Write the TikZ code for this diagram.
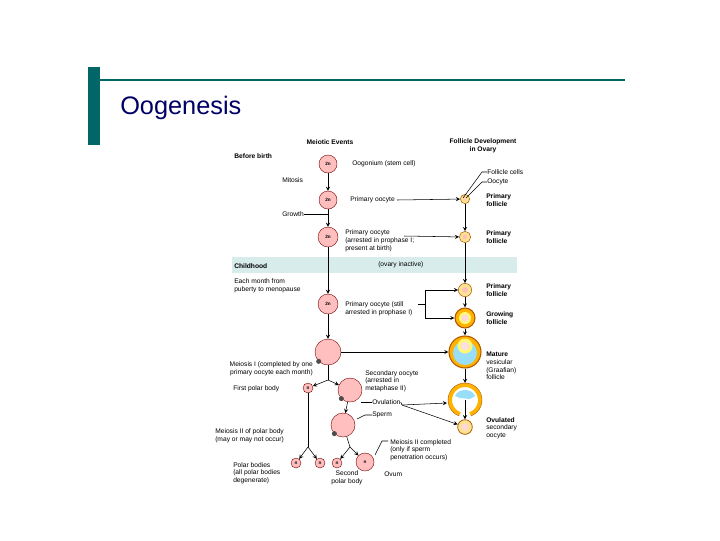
\documentclass[tikz,border=0pt]{standalone}
\usepackage{fontspec}
\setmainfont{Liberation Sans}
\begin{document}
\begin{tikzpicture}[x=0.75pt,y=-0.75pt,
 t/.style={font=\fontsize{5}{5.8}\selectfont,inner sep=0,align=left,anchor=west},
 tb/.style={t,font=\fontsize{5}{5.8}\selectfont\bfseries},
 cell/.style={circle,draw=red!45!black,fill=red!25,line width=0.3pt,inner sep=0,font=\fontsize{3.5}{4}\selectfont\bfseries},
 ar/.style={->,>=stealth,line width=0.4pt},
 ln/.style={line width=0.4pt},
 fol/.style={circle,draw=orange!70!black,fill=yellow!50!orange!40,inner sep=0}]
\useasboundingbox (0,0) rectangle (720,540);
\fill[teal!80!black] (88,67) rectangle (100,145);
\draw[teal!80!black,line width=2.2pt] (100,80) -- (625,80);
\node[anchor=west,inner sep=0,text=blue!40!black,font=\fontsize{19}{22}\selectfont] (title) at (120,108) {Oogenesis};
\fill[teal!15] (232,257) rectangle (517,273);
\node[tb,anchor=center] (h1) at (330,142) {Meiotic Events};
\node[tb,anchor=center,align=center] (h2) at (483,146) {Follicle Development\\in Ovary};
\node[tb] (bb) at (234,156) {Before birth};
\node[cell,minimum size=13.5pt] (c1) at (328,164) {2n};
\node[t] (l1) at (352,164) {Oogonium (stem cell)};
\node[t] (mit) at (282,180) {Mitosis};
\node[cell,minimum size=13.5pt] (c2) at (328,200) {2n};
\node[t] (l2) at (350,200) {Primary oocyte};
\node[t] (gr) at (282,214) {Growth};
\node[cell,minimum size=15pt] (c3) at (328,237) {2n};
\node[t] (l3) at (345,241) {Primary oocyte\\(arrested in prophase I;\\present at birth)};
\node[tb] (ch) at (234,266) {Childhood};
\node[t] (oi) at (378,265) {(ovary inactive)};
\node[t] (em) at (234,286) {Each month from\\puberty to menopause};
\node[cell,minimum size=15pt] (c4) at (328,304) {2n};
\node[t] (l4) at (345,309) {Primary oocyte (still\\arrested in prophase I)};
\node[cell,minimum size=19.5pt] (c5) at (328,352) {};
\node[t,anchor=east,align=right] (m1) at (313,369) {Meiosis I (completed by one\\primary oocyte each month)};
\node[t] (fp) at (233,389) {First polar body};
\node[cell,minimum size=7.5pt] (p1) at (308,388) {n};
\node[cell,minimum size=18pt] (c6) at (350,390) {};
\node[t] (l6) at (365,381) {Secondary oocyte\\(arrested in\\metaphase II)};
\node[t] (ov) at (372,402) {Ovulation};
\node[cell,minimum size=18pt] (c7) at (343,425) {};
\node[t] (sp) at (372,415) {Sperm};
\node[t] (m2) at (215,436) {Meiosis II of polar body\\(may or may not occur)};
\node[t] (m3) at (390,450) {Meiosis II completed\\(only if sperm\\penetration occurs)};
\node[cell,minimum size=7.5pt] (p2) at (296,463) {n};
\node[cell,minimum size=7.5pt] (p3) at (320,463) {n};
\node[cell,minimum size=7.5pt] (p4) at (337,463) {n};
\node[cell,minimum size=13.5pt] (ovm) at (365,462) {n};
\node[t] (pb) at (233,473) {Polar bodies\\(all polar bodies\\degenerate)};
\node[t,anchor=center,align=center] (spb) at (347,478) {Second\\polar body};
\node[t] (ovl) at (384,474) {Ovum};
\foreach \c in {c5, c6, c7}{\fill[black!70] (\c.225) circle (2.5);}
% follicles
\node[fol,minimum size=7pt] (f1) at (465,199) {};
\fill[red!20] (465,199) circle (1.5);
\node[fol,minimum size=8.5pt] (f2) at (465,237) {};
\fill[red!25] (465,237) circle (2.2);
\node[fol,minimum size=10pt] (f3) at (465,290) {};
\fill[red!25] (465,290) circle (2.8);
\node[fol,minimum size=15pt,fill=orange!60!yellow,line width=0.8pt] (f4) at (465,318) {};
\fill[yellow!50] (465,318) circle (6);
\fill[red!15] (465,318) circle (3.5);
\node[fol,minimum size=24pt,fill=orange!60!yellow,line width=0.8pt] (f5) at (465,352) {};
\fill[cyan!40] (465,353) circle (12);
\fill[yellow!55] (465,346) circle (7.5);
\fill[red!12] (465,346) circle (4.5);
% ruptured follicle
\draw[orange!60!yellow,line width=3pt] (465,400) ++(110:15) arc (110:430:15);
\draw[orange!70!black,line width=0.3pt] (465,400) ++(110:17) arc (110:430:17);
\fill[cyan!40] (455,396) .. controls (458,388) and (472,388) .. (475,396) -- (470,399) -- (460,398) -- cycle;
\node[fol,minimum size=11pt,line width=0.6pt] (f6) at (465,427) {};
\fill[red!15] (465,427) circle (3.5);
\node[t] (r1) at (487,172) {Follicle cells};
\node[t] (r2) at (487,182) {Oocyte};
\node[tb] (r3) at (486,200) {Primary\\follicle};
\node[tb] (r4) at (486,237) {Primary\\follicle};
\node[tb] (r5) at (486,290) {Primary\\follicle};
\node[tb] (r6) at (486,318) {Growing\\follicle};
\node[t] (r7) at (486,366) {\textbf{Mature}\\vesicular\\(Graafian)\\follicle};
\node[t] (r8) at (486,428) {\textbf{Ovulated}\\secondary\\oocyte};
% connectors
\draw[ln] (r1.west) -- (482,172) -- (463,198);
\draw[ln] (r2.west) -- (482,182) -- (466,198);
\draw[ar] (c1) -- (c2);
\draw[ln] (gr.east) -- (328,214);
\draw[ar] (c2) -- (c3);
\draw[ar] (c3) -- (c4);
\draw[ar] (c4) -- (c5);
\draw[ar] (l2.east) ++(2,0) -- (f1);
\draw[ar] (404,236) -- (f2);
\draw[ar] (f1) -- (f2);
\draw[ar] (f2) -- (f3);
\draw[ar] (f3) -- (f4);
\draw[ar] (f4) -- (f5);
\draw[ar] (f5) -- (465,383);
\draw[ln] (418,304) -- (425,304);
\draw[ar] (425,304) |- (f3);
\draw[ar] (425,304) |- (f4);
\draw[ar] (c5) -- (f5);
\coordinate (b1) at (328,380);
\draw[ln] (c5) -- (b1);
\draw[ar] (b1) -- (p1);
\draw[ar] (b1) -- (c6);
\draw[ar] (c6) -- (c7);
\draw[ln] (361,402) -- (ov.west);
\coordinate (ovj) at (402,405);
\draw[ln] (ov.east) -- (ovj);
\draw[ar] (ovj) -- (447,403);
\draw[ar] (ovj) -- (f6);
\draw[ln] (sp.west) -- (365,415) -- (357,419);
\coordinate (b2) at (308,447);
\draw[ln] (p1) -- (b2);
\draw[ar] (b2) -- (p2);
\draw[ar] (b2) -- (p3);
\coordinate (b3) at (350,447);
\draw[ln] (c7) -- (b3);
\draw[ar] (b3) -- (p4);
\draw[ar] (b3) -- (ovm);
\draw[ln] (388,441) -- (382,441) -- (375,455);
\draw[ar] (465,400) -- (f6);
\end{tikzpicture}
\end{document}
